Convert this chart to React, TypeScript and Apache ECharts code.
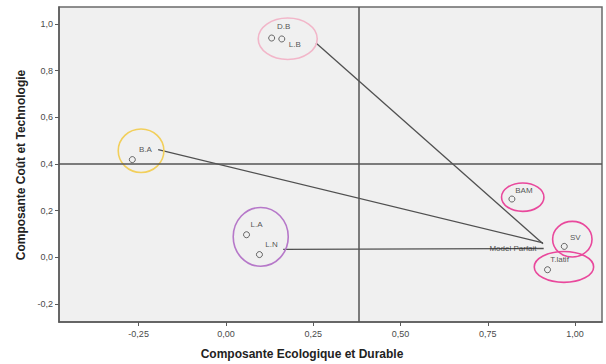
import React, { useEffect, useRef } from "react";
import * as echarts from "echarts";

// Points (Composante Ecologique et Durable, Composante Coût et Technologie)
const pointNames = ["D.B", "L.B", "B.A", "L.A", "L.N", "BAM", "SV", "T.latif"];
const pointX = [0.131, 0.16, -0.268, 0.059, 0.096, 0.819, 0.969, 0.921];
const pointY = [0.94, 0.936, 0.419, 0.097, 0.012, 0.25, 0.047, -0.053];

// Ideal model
const modelName = "Model Parfait";
const modelX = 0.908;
const modelY = 0.058;

// Connector start points (edges of the groups) -> model
const linkFromX = [0.258, -0.194, 0.164];
const linkFromY = [0.919, 0.462, 0.034];
const linkToX = [0.908, 0.908, 0.91];
const linkToY = [0.058, 0.062, 0.038];

// Group ellipses: centre x, centre y, radius x, radius y (axis units)
const ellCX = [0.177, -0.243, 0.0997, 0.85, 0.992, 0.968];
const ellCY = [0.937, 0.457, 0.088, 0.258, 0.078, -0.041];
const ellRX = [0.0845, 0.0654, 0.0788, 0.0607, 0.0564, 0.085];
const ellRY = [0.089, 0.093, 0.126, 0.061, 0.0763, 0.066];

// Reference lines
const refX = 0.375;
const refY = 0.4;

// Ticks
const xTicks = [-0.25, 0, 0.25, 0.5, 0.75, 1.0];
const yTicks = [-0.2, 0, 0.2, 0.4, 0.6, 0.8, 1.0];

const xTitle = "Composante Ecologique et Durable";
const yTitle = "Composante Coût et Technologie";

// styles
const ellColors = ["#f2b6c9", "#f2cf5b", "#b678c9", "#e9489c", "#e9489c", "#e9489c"];
const labelOffsets: [number, number][] = [
  [12, -12],
  [13, 6],
  [13, -10],
  [10, -10],
  [12, -10],
  [12, -9],
  [11, -9],
  [12, -10],
];

const FONT = "'Liberation Sans', Arial, sans-serif";

export default function App() {
  const ref = useRef<HTMLDivElement>(null);
  useEffect(() => {
    document.body.style.margin = "0";
    if (!ref.current) return;
    const chart = echarts.init(ref.current, null, { renderer: "svg" });

    const scatterData: any[] = pointNames.map((n, i) => ({
      name: n,
      value: [pointX[i], pointY[i]],
      label: { offset: labelOffsets[i] },
    }));
    scatterData.push({
      name: modelName,
      value: [modelX, modelY],
      symbolSize: 0,
      label: { offset: [-30, 5] },
    });

    const ellData = ellCX.map((cx, i) => [cx, ellCY[i], ellRX[i], ellRY[i]]);
    const linkData = linkFromX.map((x, i) => ({
      coords: [
        [x, linkFromY[i]],
        [linkToX[i], linkToY[i]],
      ],
    }));

    chart.setOption({
      animation: false,
      textStyle: { fontFamily: FONT },
      grid: {
        left: 59,
        right: 4,
        top: 7,
        bottom: 42,
        show: true,
        backgroundColor: "#f0f0f0",
        borderColor: "#6a6a6a",
        borderWidth: 1.5,
      },
      xAxis: {
        type: "value",
        min: -0.478,
        max: 1.077,
        axisLine: { show: true, onZero: false, lineStyle: { color: "#5a5a5a", width: 1.5 } },
        axisTick: {
          show: true,
          length: 4,
          customValues: xTicks,
          lineStyle: { color: "#5a5a5a", width: 1 },
        },
        axisLabel: {
          customValues: xTicks,
          fontSize: 9,
          color: "#4a4a4a",
          margin: 7,
          formatter: (v: number) => v.toFixed(2).replace(".", ","),
        },
        splitLine: { show: false },
      },
      yAxis: {
        type: "value",
        min: -0.277,
        max: 1.073,
        axisLine: { show: true, onZero: false, lineStyle: { color: "#5a5a5a", width: 1.5 } },
        axisTick: {
          show: true,
          length: 4,
          customValues: yTicks,
          lineStyle: { color: "#5a5a5a", width: 1 },
        },
        axisLabel: {
          customValues: yTicks,
          fontSize: 9,
          color: "#4a4a4a",
          margin: 6,
          formatter: (v: number) => v.toFixed(1).replace(".", ","),
        },
        splitLine: { show: false },
      },
      graphic: [
        {
          type: "text",
          x: 302,
          y: 354,
          style: {
            text: xTitle,
            font: `bold 12px ${FONT}`,
            fill: "#222",
            textAlign: "center",
            textVerticalAlign: "middle",
          },
        },
        {
          type: "text",
          x: 21,
          y: 165,
          rotation: Math.PI / 2,
          style: {
            text: yTitle,
            font: `bold 12px ${FONT}`,
            fill: "#222",
            textAlign: "center",
            textVerticalAlign: "middle",
          },
        },
      ],
      series: [
        {
          type: "lines",
          coordinateSystem: "cartesian2d",
          polyline: false,
          silent: true,
          lineStyle: { color: "#505050", width: 1.3, opacity: 1 },
          data: linkData,
          z: 3,
        },
        {
          type: "custom",
          silent: true,
          z: 4,
          renderItem: (params: any, api: any) => {
            const c = api.coord([api.value(0), api.value(1)]);
            const s = api.size([api.value(2), api.value(3)]);
            return {
              type: "ellipse",
              shape: { cx: c[0], cy: c[1], rx: s[0], ry: s[1] },
              style: {
                fill: "none",
                stroke: ellColors[params.dataIndex],
                lineWidth: 1.6,
              },
            };
          },
          data: ellData,
        },
        {
          type: "scatter",
          symbol: "circle",
          symbolSize: 6,
          z: 5,
          itemStyle: { color: "#f0f0f0", borderColor: "#444", borderWidth: 1 },
          label: {
            show: true,
            position: "inside",
            formatter: (p: any) => p.name,
            fontSize: 8,
            color: "#2a2a2a",
            textBorderWidth: 0,
            textBorderColor: "transparent",
            fontFamily: FONT,
          },
          data: scatterData,
          markLine: {
            silent: true,
            symbol: "none",
            label: { show: false },
            lineStyle: { color: "#555", width: 1.5, type: "solid" },
            data: [{ yAxis: refY }, { xAxis: refX }],
          },
        },
      ],
    });
    return () => chart.dispose();
  }, []);
  return <div ref={ref} style={{ width: 606, height: 364 }} />;
}
